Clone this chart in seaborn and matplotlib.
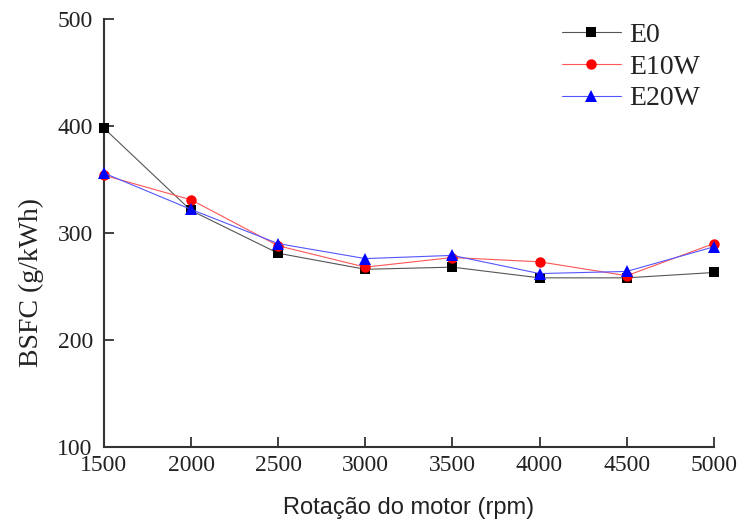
import numpy as np
import pandas as pd
import matplotlib
matplotlib.use('Agg')
import matplotlib.pyplot as plt
import seaborn as sns

# Data
rpm = [1500, 2000, 2500, 3000, 3500, 4000, 4500, 5000]
bsfc_e0 = [398, 321, 281, 266, 268, 258, 258, 263]
bsfc_e10w = [354, 331, 288, 268, 277, 273, 260, 290]
bsfc_e20w = [356, 322, 290, 276, 279, 262, 264, 287]
fuels = ['E0', 'E10W', 'E20W']

df = pd.DataFrame({
    'rpm': rpm * 3,
    'bsfc': bsfc_e0 + bsfc_e10w + bsfc_e20w,
    'fuel': [f for f in fuels for _ in rpm],
})

sns.set_style('white')
plt.rcParams['font.family'] = ['Liberation Serif', 'DejaVu Serif']

fig, ax = plt.subplots(figsize=(7.42, 5.30), dpi=100)
fig.subplots_adjust(left=0.140, right=0.962, bottom=0.157, top=0.964)

marker_colors = {'E0': '#000000', 'E10W': '#ff0000', 'E20W': '#0000ff'}
line_colors = {'E0': '#555555', 'E10W': '#ff5555', 'E20W': '#5555ff'}
markers = {'E0': 's', 'E10W': 'o', 'E20W': '^'}
sizes = {'E0': 6.5, 'E10W': 7.5, 'E20W': 8.5}

for fuel in fuels:
    sub = df[df['fuel'] == fuel]
    sns.lineplot(data=sub, x='rpm', y='bsfc', ax=ax, color=line_colors[fuel],
                 marker=markers[fuel], markersize=sizes[fuel],
                 markerfacecolor=marker_colors[fuel],
                 markeredgecolor=marker_colors[fuel], markeredgewidth=0,
                 linewidth=0.8, label=fuel, clip_on=False, zorder=3)

ax.set_xlim(1500, 5000)
ax.set_ylim(100, 500)
ax.set_xticks(rpm)
ax.set_yticks([100, 200, 300, 400, 500])
ax.tick_params(direction='in', length=7, width=1.3, labelsize=17,
               bottom=True, left=True, colors='#333333', labelcolor='#222222')
ax.tick_params(axis='y', pad=8)
ax.tick_params(axis='x', pad=6)
for s in ['top', 'right']:
    ax.spines[s].set_visible(False)
for s in ['left', 'bottom']:
    ax.spines[s].set_linewidth(1.5)
    ax.spines[s].set_color('#333333')

ax.set_ylabel('BSFC (g/kWh)', fontsize=20, color='#222222')
ax.yaxis.set_label_coords(-0.098, 0.385)
ax.set_xlabel('Rotação do motor (rpm)', fontsize=17, labelpad=15,
              color='#222222',
              family=['Liberation Sans Narrow', 'Liberation Sans', 'DejaVu Sans'])

leg = ax.legend(loc='upper right', frameon=False, fontsize=20,
                handlelength=2.1, handletextpad=0.3, labelspacing=0.22,
                bbox_to_anchor=(1.018, 1.05))
for t in leg.get_texts():
    t.set_color('#222222')

plt.savefig('out.png', dpi=100)
plt.close()
